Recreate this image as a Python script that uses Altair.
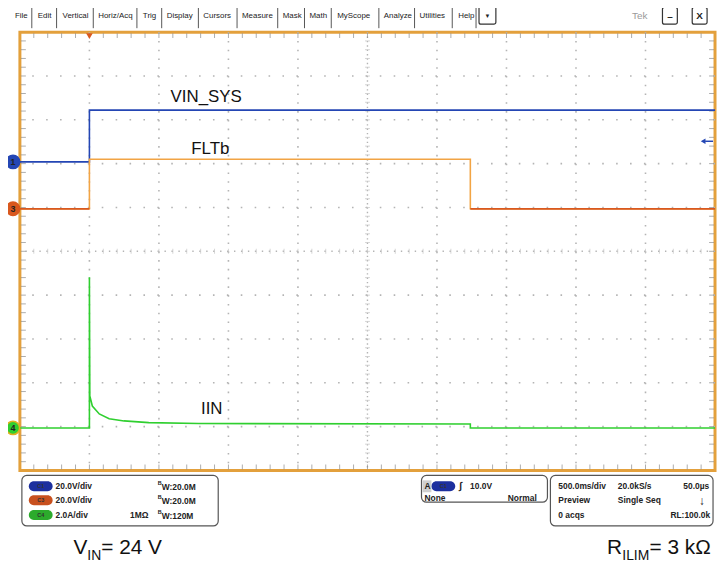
import altair as alt
import pandas as pd

# ---------------- data ----------------
# horizontal: 500 ms/div, 10 divisions -> 0..5 s ; vertical: screen divisions (0 = bottom, 10 = top)
vin_t = [0.0, 0.5, 0.5, 5.0]
vin_v = [7.04, 7.04, 8.22, 8.22]
flt_t = [0.0, 0.5, 0.5, 3.24, 3.24, 5.0]
flt_v = [5.97, 5.97, 7.10, 7.10, 5.97, 5.97]
iin_t = [0.0, 0.5, 0.5, 0.503, 0.521, 0.571, 0.642, 0.749, 0.927, 1.284, 3.24, 3.24, 5.0]
iin_v = [0.97, 0.97, 4.41, 1.70, 1.47, 1.29, 1.18, 1.13, 1.09, 1.07, 1.06, 0.97, 0.97]

trace_labels = ["VIN_SYS", "FLTb", "IIN"]
label_t = [1.34, 1.37, 1.38]
label_v = [8.51, 7.33, 1.40]

chan_ids = ["1", "3", "4"]
chan_gnd = [7.04, 5.97, 0.97]
trig_t = [0.5]
trig_level = [7.51]

menu_items = ["File", "Edit", "Vertical", "Horiz/Acq", "Trig", "Display", "Cursors",
              "Measure", "Mask", "Math", "MyScope", "Analyze", "Utilities", "Help"]

# ---------------- style / layout ----------------
FONT = "Liberation Sans"
BLUE = "#2446b4"
ORANGE = "#f2a444"
RED = "#d9581e"
GREEN = "#2fcf2f"
FRAME = "#e3a03c"
W, H = 701, 442
OX, OY = 20, 30  # page position of plot origin

xs = alt.Scale(domain=[0, 5], nice=False, zero=False)
ys = alt.Scale(domain=[0, 10], nice=False, zero=False)


def X(f):
    return alt.X(f, type="quantitative", scale=xs, axis=None)


def Y(f):
    return alt.Y(f, type="quantitative", scale=ys, axis=None)


def texts(rows, size, weight="normal", color="#222", align="left", baseline="middle", font=FONT):
    df = pd.DataFrame(rows, columns=["txt", "px", "py"])
    df["px"] = df["px"] - OX
    df["py"] = df["py"] - OY
    return alt.Chart(df).mark_text(fontSize=size, fontWeight=weight, color=color, align=align,
                                   baseline=baseline, font=font).encode(
        x=alt.X("px:Q", scale=None, axis=None), y=alt.Y("py:Q", scale=None, axis=None), text="txt:N")


def rects(rows, **kw):
    df = pd.DataFrame(rows, columns=["x1", "y1", "x2", "y2"])
    for c in ["x1", "x2"]:
        df[c] = df[c] - OX
    for c in ["y1", "y2"]:
        df[c] = df[c] - OY
    return alt.Chart(df).mark_rect(**kw).encode(
        x=alt.X("x1:Q", scale=None, axis=None), x2="x2:Q",
        y=alt.Y("y1:Q", scale=None, axis=None), y2="y2:Q")


def rules(rows, **kw):
    df = pd.DataFrame(rows, columns=["x1", "y1", "x2", "y2"])
    for c in ["x1", "x2"]:
        df[c] = df[c] - OX
    for c in ["y1", "y2"]:
        df[c] = df[c] - OY
    return alt.Chart(df).mark_rule(**kw).encode(
        x=alt.X("x1:Q", scale=None, axis=None), x2="x2:Q",
        y=alt.Y("y1:Q", scale=None, axis=None), y2="y2:Q")


layers = []

# ---- graticule ----
vg = pd.DataFrame({"t": [0.5, 1.0, 1.5, 2.0, 3.0, 3.5, 4.0, 4.5]})
hg = pd.DataFrame({"v": [1, 2, 3, 4, 6, 7, 8, 9]})
layers.append(alt.Chart(vg).mark_rule(color="#b4b4b4", strokeWidth=1.6, strokeDash=[1.6, 7.24]).encode(x=X("t")))
layers.append(alt.Chart(hg).mark_rule(color="#b4b4b4", strokeWidth=1.6, strokeDash=[1.6, 12.42]).encode(y=Y("v")))
layers.append(alt.Chart(pd.DataFrame({"t": [2.5]})).mark_rule(color="#b4b4b4", strokeWidth=1.4, strokeDash=[1.4, 3.02]).encode(x=X("t")))
layers.append(alt.Chart(pd.DataFrame({"v": [5]})).mark_rule(color="#b4b4b4", strokeWidth=1.4, strokeDash=[1.4, 5.61]).encode(y=Y("v")))

minor_t = [round(i * 0.1, 2) for i in range(1, 50)]
minor_v = [round(i * 0.2, 2) for i in range(1, 50)]
tx = pd.DataFrame({"t": minor_t})
ty = pd.DataFrame({"v": minor_v})
tick_col = "#8a8a8a"
layers.append(alt.Chart(tx).mark_tick(orient="vertical", size=5, thickness=1, color=tick_col).encode(x=X("t"), y=alt.value(3.5)))
layers.append(alt.Chart(tx).mark_tick(orient="vertical", size=5, thickness=1, color=tick_col).encode(x=X("t"), y=alt.value(H - 3.5)))
layers.append(alt.Chart(ty).mark_tick(orient="horizontal", size=5, thickness=1, color=tick_col).encode(y=Y("v"), x=alt.value(3.5)))
layers.append(alt.Chart(ty).mark_tick(orient="horizontal", size=5, thickness=1, color=tick_col).encode(y=Y("v"), x=alt.value(W - 3.5)))
layers.append(alt.Chart(tx).mark_tick(orient="vertical", size=5, thickness=1, color="#c4c4c4").encode(x=X("t"), y=Y("c")).transform_calculate(c="5"))
layers.append(alt.Chart(ty).mark_tick(orient="horizontal", size=5, thickness=1, color="#c4c4c4").encode(y=Y("v"), x=X("c")).transform_calculate(c="2.5"))

# ---- traces ----
def trace(t, v, color, w=1.6):
    df = pd.DataFrame({"t": t, "v": v, "i": range(len(t))})
    return alt.Chart(df).mark_line(color=color, strokeWidth=w).encode(x=X("t"), y=Y("v"), order="i:Q")


layers.append(trace(vin_t, vin_v, BLUE))
fdf = pd.DataFrame({"t": flt_t, "v": flt_v, "i": range(len(flt_t))})
fdf["seg"] = (fdf["v"].diff().fillna(0) != 0).cumsum()
layers.append(alt.Chart(fdf).mark_line(color=ORANGE, strokeWidth=1.6).encode(x=X("t"), y=Y("v"), order="i:Q"))
layers.append(alt.Chart(fdf).transform_filter("datum.v < 6.5").mark_line(color=RED, strokeWidth=1.8).encode(
    x=X("t"), y=Y("v"), order="i:Q", detail="seg:N"))
layers.append(trace(iin_t, iin_v, GREEN, 1.6))

# ---- trace labels ----
ldf = pd.DataFrame({"txt": trace_labels, "t": label_t, "v": label_v})
layers.append(alt.Chart(ldf).mark_text(fontSize=17, font=FONT, color="#111", align="center", baseline="middle").encode(
    x=X("t"), y=Y("v"), text="txt:N"))

# ---- channel ground markers ----
cdf = pd.DataFrame({"id": chan_ids, "v": chan_gnd, "c": [BLUE, RED, GREEN], "s": [BLUE, RED, "#e0b020"]})
layers.append(alt.Chart(cdf).mark_circle(size=180, opacity=1, strokeWidth=1.6).encode(
    x=alt.value(-7), y=Y("v"), fill=alt.Fill("c:N", scale=None), stroke=alt.Stroke("s:N", scale=None)))
layers.append(alt.Chart(cdf).mark_text(fontSize=9, fontWeight="bold", font=FONT, color="#222").encode(
    x=alt.value(-7), y=Y("v"), text="id:N"))

# ---- trigger markers ----
layers.append(alt.Chart(pd.DataFrame({"t": trig_t})).mark_point(shape="triangle-down", filled=True, size=45, opacity=1, color=RED).encode(
    x=X("t"), y=alt.value(4)))
tl = pd.DataFrame({"v": trig_level})
layers.append(alt.Chart(tl).mark_rule(color=BLUE, strokeWidth=1.5).encode(x=alt.value(691), x2=alt.value(699), y=Y("v")))
layers.append(alt.Chart(tl).mark_point(shape="triangle-left", filled=True, size=30, opacity=1, color=BLUE).encode(x=alt.value(689), y=Y("v")))

# ---- menu bar ----
menu_x = [15, 38, 63, 99, 144, 168, 205, 244, 285, 312, 340, 387, 423, 462]
seps = [32, 57, 94, 138, 163, 200, 239, 280, 307, 334, 382, 418, 456, 480]
layers.append(texts(list(zip(menu_items, menu_x, [14] * len(menu_x))), 8))
layers.append(rules([(s, 5, s, 26) for s in seps], color="#555", strokeWidth=1))
layers.append(rects([(483, 4, 500, 22), (668, 5, 683, 22), (698, 5, 713, 22)],
                    fill="white", stroke="#333", strokeWidth=1.2, cornerRadius=2))
layers.append(texts([("▼", 491.5, 13.5)], 6, align="center"))
layers.append(texts([("–", 675.5, 15), ("X", 705.5, 13.5)], 10, weight="bold", align="center"))
layers.append(texts([("Tek", 645, 14)], 10, color="#9a9a9a", align="center"))

# ---- status panel ----
layers.append(rects([(22, 477, 220, 528), (425, 477, 552, 504), (555, 477, 719, 528)],
                    fill="white", stroke="#555", strokeWidth=1.2, cornerRadius=5))
layers.append(rects([(29, 483, 53, 493), (435, 483, 459, 493)], fill="#1c2f9e", cornerRadius=5))
layers.append(rects([(29, 497, 53, 507)], fill="#c8501e", cornerRadius=5))
layers.append(rects([(29, 512, 53, 522)], fill="#2cab2c", cornerRadius=5))
layers.append(rects([(426, 482, 435, 494)], fill="#cfcfcf"))
layers.append(texts([("C1", 41, 488), ("C3", 41, 502), ("C4", 41, 517), ("C1", 447, 488)], 5.5,
                    weight="bold", color="#333", align="center"))
bold_rows = [
    ("20.0V/div", 56, 488), ("20.0V/div", 56, 502), ("2.0A/div", 56, 517),
    ("W:20.0M", 163, 489), ("W:20.0M", 163, 503), ("W:120M", 163, 518), ("1MΩ", 131, 517),
    ("A", 428, 488), ("10.0V", 474, 488), ("None", 428, 500), ("Normal", 512, 500),
    ("500.0ms/div", 563, 488), ("20.0kS/s", 623, 488), ("50.0µs", 689, 488),
    ("Preview", 563, 502), ("Single Seq", 623, 502),
    ("0 acqs", 563, 517), ("RL:100.0k", 676, 517),
]
layers.append(texts(bold_rows, 8.5, weight="bold", color="#222"))
layers.append(texts([("B", 159, 485), ("B", 159, 499), ("B", 159, 514)], 5.5, weight="bold", color="#222"))
layers.append(texts([("∫", 463, 488)], 10, weight="bold", color="#222"))
layers.append(texts([("↓", 708, 503)], 12, weight="bold", color="#222", align="center"))

# ---- bottom captions ----
layers.append(texts([("V", 74, 556), (" = 24 V", 102, 556), ("R", 612, 556), (" = 3 kΩ", 655, 556)], 21,
                    color="#111", baseline="alphabetic"))
layers.append(texts([("IN", 88, 562), ("ILIM", 627.5, 562)], 14, color="#111", baseline="alphabetic"))

chart = alt.layer(*layers).properties(
    width=W, height=H,
    autosize=alt.AutoSizeParams(type="none"),
    padding={"left": 12, "top": 22, "right": 2, "bottom": 92},
    background="white",
).configure_view(stroke=FRAME, strokeWidth=3)

chart.save("out.html", embed_options={"renderer": "svg", "actions": False})
